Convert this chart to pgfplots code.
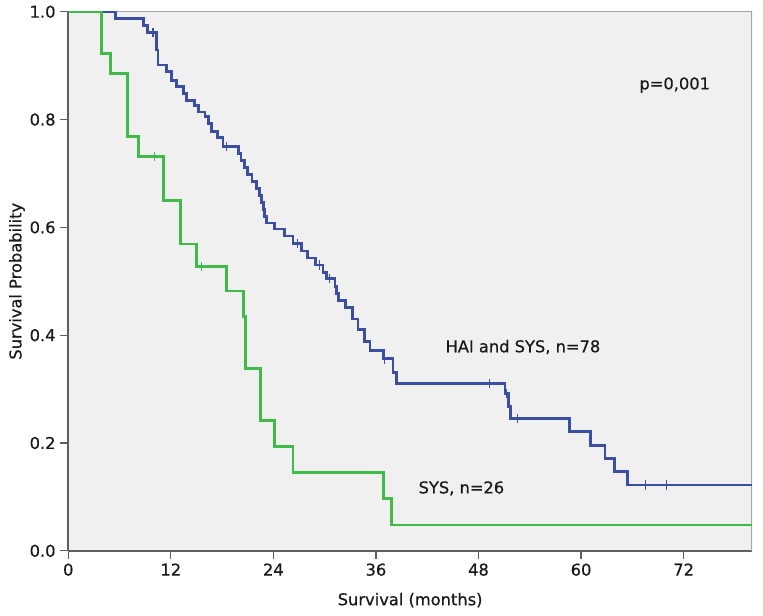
\documentclass[border=0pt]{standalone}
\usepackage{pgfplots}
\pgfplotsset{compat=1.18}
\usepackage{fontspec}
\setmainfont{DejaVu Sans}[FakeBold=0.6]
\definecolor{kmblue}{RGB}{58,78,162}
\definecolor{kmgreen}{RGB}{64,186,72}
\definecolor{bgc}{RGB}{240,240,240}
\definecolor{framec}{RGB}{95,95,95}
\newcommand\cf{\fontsize{12.2}{14}\selectfont}
\begin{document}
\begin{tikzpicture}
\begin{axis}[
  scale only axis,
  width=512.8pt, height=404.3pt,
  xmin=0, xmax=80, ymin=0, ymax=1,
  axis background/.style={fill=bgc},
  axis lines=left,
  axis line style={-, draw=framec, line width=1.4pt},
  tick align=outside,
  major tick length=6pt,
  tick style={draw=framec, line width=1pt},
  xtick={0,12,24,36,48,60,72},
  ytick={0,0.2,0.4,0.6,0.8,1.0},
  /pgf/number format/assume math mode=true,
  yticklabel style={/pgf/number format/fixed, /pgf/number format/fixed zerofill, /pgf/number format/precision=1},
  tick label style={font=\cf, text=black!90},
  label style={font=\cf, text=black!90},
  xlabel={Survival (months)},
  ylabel={Survival Probability},
  xlabel style={at={(axis description cs:0.5,0)}, anchor=center, yshift=-37pt},
  ylabel style={at={(axis description cs:0,0.5)}, anchor=center, yshift=38.5pt},
  clip=true,
]
\draw[draw=gray!70, line width=0.8pt] (rel axis cs:0,1) -- (rel axis cs:1,1) -- (rel axis cs:1,0);
% blue: HAI and SYS
\addplot[const plot, color=kmblue, line width=2.1pt] coordinates {
(0,1.0) (5.5,0.987) (8.8,0.974) (9.3,0.962) (10.3,0.929) (10.5,0.901)
(11.5,0.889) (12.1,0.873) (12.7,0.862) (13.5,0.849) (13.8,0.836) (14.8,0.826)
(15.2,0.814) (16.0,0.805) (16.4,0.792) (16.8,0.778) (17.5,0.766) (18.1,0.750)
(19.9,0.737) (20.2,0.724) (20.6,0.711) (21.0,0.698) (21.5,0.685) (22.0,0.672)
(22.4,0.659) (22.6,0.646) (22.8,0.633) (23.0,0.620) (23.2,0.608)
(24.1,0.597) (25.3,0.584) (26.3,0.570) (27.3,0.556) (28.0,0.543) (28.9,0.530)
(29.8,0.517) (30.2,0.505) (31.2,0.490) (31.4,0.477) (31.6,0.464)
(32.4,0.451) (33.3,0.430) (33.9,0.410) (34.7,0.389) (35.3,0.371)
(36.9,0.356) (38.0,0.331) (38.4,0.310)
(51.1,0.292) (51.5,0.267) (51.7,0.245) (58.6,0.221) (61.1,0.196)
(62.8,0.171) (63.9,0.147) (65.4,0.122) (80,0.122)
};
\addplot[only marks, mark=|, mark size=3.5pt, color=kmblue, mark options={line width=1pt}] coordinates {
(9.9,0.962) (18.5,0.750) (26.8,0.570) (29.4,0.530) (30.6,0.505) (37.0,0.356)
(49.3,0.310) (51.3,0.292) (52.6,0.245) (67.5,0.122) (70.0,0.122)
};
% green: SYS
\addplot[const plot, color=kmgreen, line width=2.1pt] coordinates {
(0,1.0) (3.9,0.923) (4.9,0.885) (6.95,0.769) (8.2,0.731) (11.1,0.650)
(13.1,0.569) (15.0,0.528) (18.5,0.482) (20.5,0.434) (20.7,0.338)
(22.5,0.241) (24.1,0.193) (26.3,0.145) (36.9,0.097) (37.8,0.048) (80,0.048)
};
\addplot[only marks, mark=|, mark size=3.5pt, color=kmgreen, mark options={line width=1pt}] coordinates {
(10.1,0.731) (15.6,0.528)
};
\node[font=\cf, text=black!90] at (axis cs:70.96,0.864) {p=0,001};
\node[font=\cf, text=black!90] at (axis cs:53.2,0.378) {HAI and SYS, n=78};
\node[font=\cf, text=black!90] at (axis cs:46.0,0.116) {SYS, n=26};
\end{axis}
\pgfresetboundingbox
\path[use as bounding box] ([xshift=-51.2pt,yshift=-48.2pt]current axis.south west) rectangle ([xshift=8.25pt,yshift=8.8pt]current axis.north east);
\end{tikzpicture}
\end{document}
